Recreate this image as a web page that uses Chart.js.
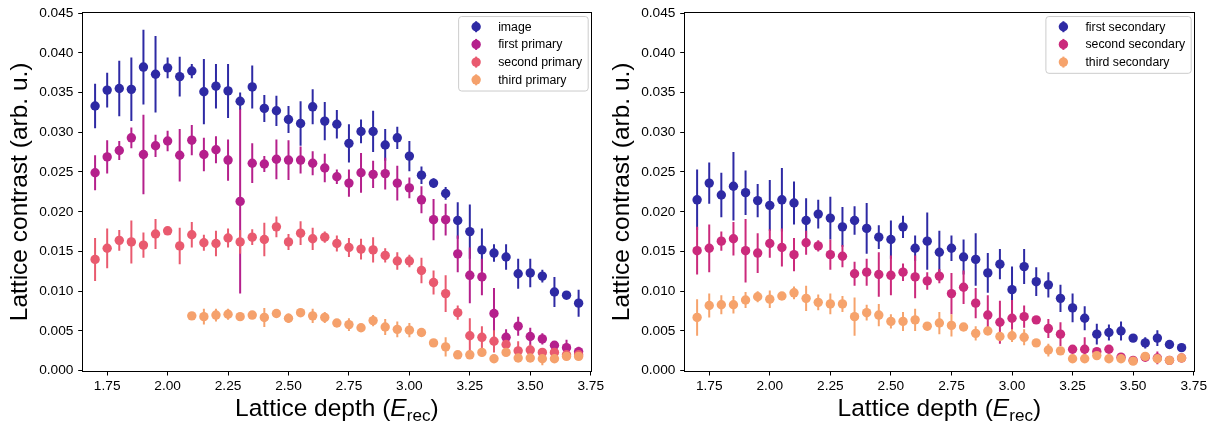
<!DOCTYPE html>
<html>
<head>
<meta charset="utf-8">
<script src="https://cdn.jsdelivr.net/npm/chart.js@4.4.1/dist/chart.umd.min.js"></script>
<style>
  html, body { margin: 0; padding: 0; background: #fff; }
  body { width: 1217px; height: 426px; position: relative; overflow: hidden; }
  .panel { position: absolute; top: 0; height: 426px; }
  #left { left: 0; width: 608px; }
  #right { left: 602px; width: 615px; }
</style>
</head>
<body>
<div class="panel" id="left"><canvas id="chart-primary" width="608" height="426"></canvas></div>
<div class="panel" id="right"><canvas id="chart-secondary" width="615" height="426"></canvas></div>
<script>
// Lattice depths (E_rec)
const depths = [1.70, 1.75, 1.80, 1.85, 1.90, 1.95, 2.00, 2.05, 2.10, 2.15, 2.20, 2.25, 2.30, 2.35,
  2.40, 2.45, 2.50, 2.55, 2.60, 2.65, 2.70, 2.75, 2.80, 2.85, 2.90, 2.95, 3.00, 3.05, 3.10, 3.15,
  3.20, 3.25, 3.30, 3.35, 3.40, 3.45, 3.50, 3.55, 3.60, 3.65, 3.70];
const depthsThird = [2.10, 2.15, 2.20, 2.25, 2.30, 2.35, 2.40, 2.45, 2.50, 2.55, 2.60, 2.65, 2.70,
  2.75, 2.80, 2.85, 2.90, 2.95, 3.00, 3.05, 3.10, 3.15, 3.20, 3.25, 3.30, 3.35, 3.40, 3.45, 3.50,
  3.55, 3.60, 3.65, 3.70];

// Primary peaks
const imageContrast = [0.0333, 0.0353, 0.0355, 0.0354, 0.0382, 0.0373, 0.0381, 0.0370, 0.0377, 0.0351,
  0.0358, 0.0352, 0.0339, 0.0357, 0.0330, 0.0327, 0.0316, 0.0311, 0.0332, 0.0314, 0.0310, 0.0286,
  0.0301, 0.0301, 0.0284, 0.0293, 0.0270, 0.0246, 0.0236, 0.0223, 0.0189, 0.0175, 0.0152, 0.0148,
  0.0143, 0.0122, 0.0123, 0.0119, 0.0099, 0.0095, 0.0085];
const imageErr = [0.0028, 0.0022, 0.0035, 0.0040, 0.0047, 0.0048, 0.0013, 0.0025, 0.0009, 0.0041,
  0.0028, 0.0034, 0.0011, 0.0027, 0.0017, 0.0019, 0.0017, 0.0028, 0.0022, 0.0024, 0.0018, 0.0024,
  0.0015, 0.0026, 0.0020, 0.0014, 0.0019, 0.0011, 0.0006, 0.0008, 0.0023, 0.0034, 0.0027, 0.0011,
  0.0016, 0.0019, 0.0018, 0.0008, 0.0019, 0.0004, 0.0017];

const firstPrimary = [0.0249, 0.0269, 0.0277, 0.0293, 0.0272, 0.0283, 0.0289, 0.0271, 0.0290, 0.0272,
  0.0278, 0.0265, 0.0213, 0.0261, 0.0260, 0.0266, 0.0265, 0.0265, 0.0261, 0.0255, 0.0244, 0.0236,
  0.0249, 0.0247, 0.0248, 0.0236, 0.0230, 0.0215, 0.0190, 0.0190, 0.0147, 0.0120, 0.0118, 0.0072,
  0.0042, 0.0056, 0.0043, 0.0040, 0.0032, 0.0029, 0.0024];
const firstPrimaryErr = [0.0022, 0.0021, 0.0012, 0.0013, 0.0050, 0.0014, 0.0013, 0.0033, 0.0019, 0.0021,
  0.0017, 0.0026, 0.0116, 0.0025, 0.0010, 0.0025, 0.0025, 0.0017, 0.0015, 0.0018, 0.0009, 0.0017,
  0.0025, 0.0017, 0.0020, 0.0022, 0.0013, 0.0017, 0.0026, 0.0020, 0.0023, 0.0035, 0.0023, 0.0032,
  0.0010, 0.0012, 0.0011, 0.0007, 0.0005, 0.0010, 0.0006];

const secondPrimary = [0.0140, 0.0154, 0.0164, 0.0162, 0.0158, 0.0172, 0.0176, 0.0157, 0.0171, 0.0161,
  0.0160, 0.0167, 0.0162, 0.0168, 0.0165, 0.0181, 0.0162, 0.0173, 0.0166, 0.0168, 0.0160, 0.0155,
  0.0153, 0.0152, 0.0145, 0.0138, 0.0138, 0.0126, 0.0111, 0.0097, 0.0073, 0.0044, 0.0042, 0.0037,
  0.0033, 0.0025, 0.0026, 0.0023, 0.0023, 0.0020, 0.0020];
const secondPrimaryErr = [0.0027, 0.0025, 0.0013, 0.0027, 0.0016, 0.0019, 0.0004, 0.0023, 0.0016, 0.0010,
  0.0016, 0.0012, 0.0015, 0.0010, 0.0021, 0.0013, 0.0010, 0.0015, 0.0014, 0.0007, 0.0010, 0.0012,
  0.0013, 0.0016, 0.0009, 0.0011, 0.0008, 0.0016, 0.0015, 0.0023, 0.0009, 0.0022, 0.0014, 0.0014,
  0.0005, 0.0012, 0.0007, 0.0004, 0.0004, 0.0003, 0.0003];

const thirdPrimary = [0.0069, 0.0068, 0.0070, 0.0071, 0.0068, 0.0070, 0.0067, 0.0072, 0.0066, 0.0073,
  0.0069, 0.0067, 0.0060, 0.0058, 0.0054, 0.0063, 0.0055, 0.0052, 0.0051, 0.0048, 0.0035, 0.0030,
  0.0020, 0.0020, 0.0023, 0.0015, 0.0023, 0.0016, 0.0016, 0.0015, 0.0015, 0.0018, 0.0018];
const thirdPrimaryErr = [0.0004, 0.0010, 0.0008, 0.0007, 0.0005, 0.0005, 0.0012, 0.0005, 0.0006, 0.0005,
  0.0009, 0.0007, 0.0004, 0.0008, 0.0004, 0.0007, 0.0010, 0.0010, 0.0009, 0.0005, 0.0005, 0.0012,
  0.0004, 0.0004, 0.0005, 0.0004, 0.0004, 0.0005, 0.0005, 0.0008, 0.0005, 0.0004, 0.0004];

// Secondary peaks
const firstSecondary = [0.0215, 0.0236, 0.0221, 0.0232, 0.0224, 0.0214, 0.0208, 0.0215, 0.0211, 0.0189,
  0.0197, 0.0192, 0.0181, 0.0189, 0.0179, 0.0168, 0.0165, 0.0181, 0.0154, 0.0163, 0.0149, 0.0154,
  0.0143, 0.0140, 0.0123, 0.0134, 0.0102, 0.0131, 0.0112, 0.0108, 0.0091, 0.0079, 0.0066, 0.0046,
  0.0048, 0.0050, 0.0041, 0.0035, 0.0041, 0.0033, 0.0029];
const firstSecondaryErr = [0.0038, 0.0026, 0.0028, 0.0043, 0.0028, 0.0021, 0.0032, 0.0040, 0.0027, 0.0028,
  0.0018, 0.0027, 0.0025, 0.0018, 0.0032, 0.0015, 0.0024, 0.0014, 0.0016, 0.0036, 0.0027, 0.0016,
  0.0022, 0.0033, 0.0025, 0.0019, 0.0029, 0.0022, 0.0018, 0.0016, 0.0017, 0.0018, 0.0015, 0.0013,
  0.0010, 0.0012, 0.0004, 0.0007, 0.0010, 0.0004, 0.0004];

const secondSecondary = [0.0151, 0.0154, 0.0163, 0.0166, 0.0151, 0.0148, 0.0160, 0.0155, 0.0146, 0.0161,
  0.0157, 0.0146, 0.0144, 0.0122, 0.0124, 0.0121, 0.0120, 0.0124, 0.0118, 0.0113, 0.0119, 0.0097,
  0.0105, 0.0085, 0.0070, 0.0061, 0.0066, 0.0068, 0.0064, 0.0053, 0.0046, 0.0027, 0.0027, 0.0024,
  0.0027, 0.0017, 0.0013, 0.0017, 0.0016, 0.0013, 0.0016];
const secondSecondaryErr = [0.0030, 0.0030, 0.0012, 0.0021, 0.0040, 0.0025, 0.0018, 0.0024, 0.0021, 0.0015,
  0.0007, 0.0019, 0.0014, 0.0015, 0.0017, 0.0028, 0.0025, 0.0011, 0.0027, 0.0011, 0.0009, 0.0026,
  0.0021, 0.0019, 0.0025, 0.0027, 0.0023, 0.0014, 0.0004, 0.0012, 0.0015, 0.0005, 0.0015, 0.0004,
  0.0004, 0.0004, 0.0004, 0.0004, 0.0008, 0.0004, 0.0004];

const thirdSecondary = [0.0067, 0.0082, 0.0083, 0.0083, 0.0089, 0.0093, 0.0090, 0.0094, 0.0098, 0.0091,
  0.0086, 0.0084, 0.0084, 0.0068, 0.0073, 0.0070, 0.0062, 0.0062, 0.0064, 0.0056, 0.0060, 0.0057,
  0.0055, 0.0047, 0.0050, 0.0043, 0.0044, 0.0042, 0.0035, 0.0026, 0.0025, 0.0015, 0.0015, 0.0019,
  0.0015, 0.0015, 0.0012, 0.0018, 0.0015, 0.0013, 0.0016];
const thirdSecondaryErr = [0.0023, 0.0015, 0.0012, 0.0011, 0.0010, 0.0007, 0.0011, 0.0005, 0.0008, 0.0016,
  0.0010, 0.0013, 0.0010, 0.0024, 0.0010, 0.0014, 0.0009, 0.0012, 0.0014, 0.0005, 0.0014, 0.0014,
  0.0005, 0.0009, 0.0005, 0.0005, 0.0008, 0.0010, 0.0004, 0.0008, 0.0004, 0.0003, 0.0003, 0.0003,
  0.0003, 0.0003, 0.0003, 0.0003, 0.0003, 0.0003, 0.0003];

// Axis ticks
const depthTicks = [1.75, 2.00, 2.25, 2.50, 2.75, 3.00, 3.25, 3.50, 3.75];
const contrastTicks = [0.000, 0.005, 0.010, 0.015, 0.020, 0.025, 0.030, 0.035, 0.040, 0.045];

const FONT = '"Liberation Sans", Arial, Helvetica, sans-serif';

// matplotlib-style error bars, drawn under all markers
const errorBars = {
  id: 'errorBars',
  beforeDatasetsDraw(chart) {
    const { ctx, chartArea, scales: { x, y } } = chart;
    ctx.save();
    ctx.beginPath();
    ctx.rect(chartArea.left, chartArea.top, chartArea.right - chartArea.left, chartArea.bottom - chartArea.top);
    ctx.clip();
    ctx.lineWidth = 2;
    chart.data.datasets.forEach(ds => {
      ctx.strokeStyle = ds.backgroundColor;
      ds.data.forEach((p, i) => {
        const err = ds.errors[i];
        const px = x.getPixelForValue(p.x);
        ctx.beginPath();
        ctx.moveTo(px, y.getPixelForValue(p.y + err));
        ctx.lineTo(px, y.getPixelForValue(p.y - err));
        ctx.stroke();
      });
    });
    ctx.restore();
  }
};

// full box around the plot area
const frame = {
  id: 'frame',
  afterDatasetsDraw(chart) {
    const { ctx, chartArea: a } = chart;
    ctx.save();
    ctx.strokeStyle = '#000';
    ctx.lineWidth = 1;
    ctx.strokeRect(Math.round(a.left) - 0.5, Math.round(a.top) - 0.5,
      Math.round(a.right - a.left) + 1, Math.round(a.bottom - a.top) + 1);
    ctx.restore();
  }
};

// legend box in the upper right corner, marker = dot with error bar
const legendBox = {
  id: 'legendBox',
  afterDraw(chart) {
    const { ctx, chartArea: a } = chart;
    const sets = chart.data.datasets;
    const rowH = 17.7, pad = 10.7, textX = 40;
    ctx.save();
    ctx.font = '12.3px ' + FONT;
    const textW = Math.max(...sets.map(d => ctx.measureText(d.label).width));
    const w = textX + textW + 5.5;
    const h = pad * 2 + rowH * (sets.length - 1);
    const left = a.right - 3 - w, top = a.top + 3;
    ctx.beginPath();
    ctx.roundRect(left + 0.5, top + 0.5, w, h, 3);
    ctx.fillStyle = 'rgba(255,255,255,0.8)';
    ctx.fill();
    ctx.strokeStyle = '#cccccc';
    ctx.lineWidth = 1;
    ctx.stroke();
    sets.forEach((d, i) => {
      const cy = top + pad + i * rowH;
      const mx = left + 18;
      ctx.strokeStyle = d.backgroundColor;
      ctx.lineWidth = 2;
      ctx.beginPath();
      ctx.moveTo(mx, cy - 5.5);
      ctx.lineTo(mx, cy + 5.5);
      ctx.stroke();
      ctx.fillStyle = d.backgroundColor;
      ctx.beginPath();
      ctx.arc(mx, cy, 4.7, 0, Math.PI * 2);
      ctx.fill();
      ctx.fillStyle = '#000';
      ctx.textBaseline = 'middle';
      ctx.fillText(d.label, left + textX, cy + 0.5);
    });
    ctx.restore();
  }
};

// axis titles, x title has italic E with subscript "rec"
const axisTitles = {
  id: 'axisTitles',
  afterDraw(chart) {
    const { ctx, chartArea: a } = chart;
    const size = 24.5;
    ctx.save();
    ctx.fillStyle = '#000';
    ctx.textBaseline = 'alphabetic';

    const normal = size + 'px ' + FONT;
    const italic = 'italic ' + size + 'px ' + FONT;
    const small = (size * 0.7).toFixed(1) + 'px ' + FONT;
    const parts = [
      { t: 'Lattice depth (', f: normal, dy: 0 },
      { t: 'E', f: italic, dy: 0 },
      { t: 'rec', f: small, dy: 5 },
      { t: ')', f: normal, dy: 0 }
    ];
    let total = 0;
    parts.forEach(p => { ctx.font = p.f; p.w = ctx.measureText(p.t).width; total += p.w; });
    let x = (a.left + a.right) / 2 - total / 2;
    const base = 416;
    parts.forEach(p => {
      ctx.font = p.f;
      ctx.textAlign = 'left';
      ctx.fillText(p.t, x, base + p.dy);
      x += p.w;
    });

    ctx.translate(20, (a.top + a.bottom) / 2);
    ctx.rotate(-Math.PI / 2);
    ctx.font = normal;
    ctx.textAlign = 'center';
    ctx.textBaseline = 'middle';
    ctx.fillText('Lattice contrast (arb. u.)', 0, 0);
    ctx.restore();
  }
};

function series(label, xs, ys, errs, color) {
  return {
    label,
    data: xs.map((d, i) => ({ x: d, y: ys[i] })),
    errors: errs,
    backgroundColor: color,
    borderColor: color,
    pointRadius: 4.7,
    pointHoverRadius: 4.7,
    pointBorderWidth: 0
  };
}

function renderPanel(canvasId, datasets, rightPad) {
  // later series are drawn on top
  datasets.forEach((d, i) => { d.order = datasets.length - i; });
  const tickFont = { family: FONT, size: 13.7 };
  return new Chart(document.getElementById(canvasId), {
    type: 'scatter',
    data: { datasets },
    options: {
      responsive: false,
      animation: false,
      events: [],
      layout: { padding: { top: 10.7, right: rightPad, bottom: 0, left: 0 } },
      plugins: { legend: { display: false }, tooltip: { enabled: false } },
      scales: {
        x: {
          type: 'linear',
          min: 1.65,
          max: 3.75,
          afterBuildTicks: s => { s.ticks = depthTicks.map(v => ({ value: v })); },
          afterFit: s => { s.height = 55.3; },
          border: { display: false },
          grid: { drawOnChartArea: false, drawTicks: true, tickLength: 4.8, tickWidth: 1, tickColor: '#000' },
          ticks: { color: '#000', font: tickFont, padding: 3, maxRotation: 0, autoSkip: false,
            callback: v => v.toFixed(2) }
        },
        y: {
          type: 'linear',
          min: 0,
          max: 0.045,
          afterBuildTicks: s => { s.ticks = contrastTicks.map(v => ({ value: v })); },
          afterFit: s => { s.width = 83; },
          border: { display: false },
          grid: { drawOnChartArea: false, drawTicks: true, tickLength: 4.8, tickWidth: 1, tickColor: '#000' },
          ticks: { color: '#000', font: tickFont, padding: 4.8, autoSkip: false,
            callback: v => v.toFixed(3) }
        }
      }
    },
    plugins: [errorBars, frame, legendBox, axisTitles]
  });
}

renderPanel('chart-primary', [
  series('image', depths, imageContrast, imageErr, '#2e2aa4'),
  series('first primary', depths, firstPrimary, firstPrimaryErr, '#b5208c'),
  series('second primary', depths, secondPrimary, secondPrimaryErr, '#e95a6f'),
  series('third primary', depthsThird, thirdPrimary, thirdPrimaryErr, '#f5a16c')
], 17.3);

renderPanel('chart-secondary', [
  series('first secondary', depths, firstSecondary, firstSecondaryErr, '#2e2aa4'),
  series('second secondary', depths, secondSecondary, secondSecondaryErr, '#cb2a7c'),
  series('third secondary', depths, thirdSecondary, thirdSecondaryErr, '#f6a36c')
], 23.3);
</script>
</body>
</html>
